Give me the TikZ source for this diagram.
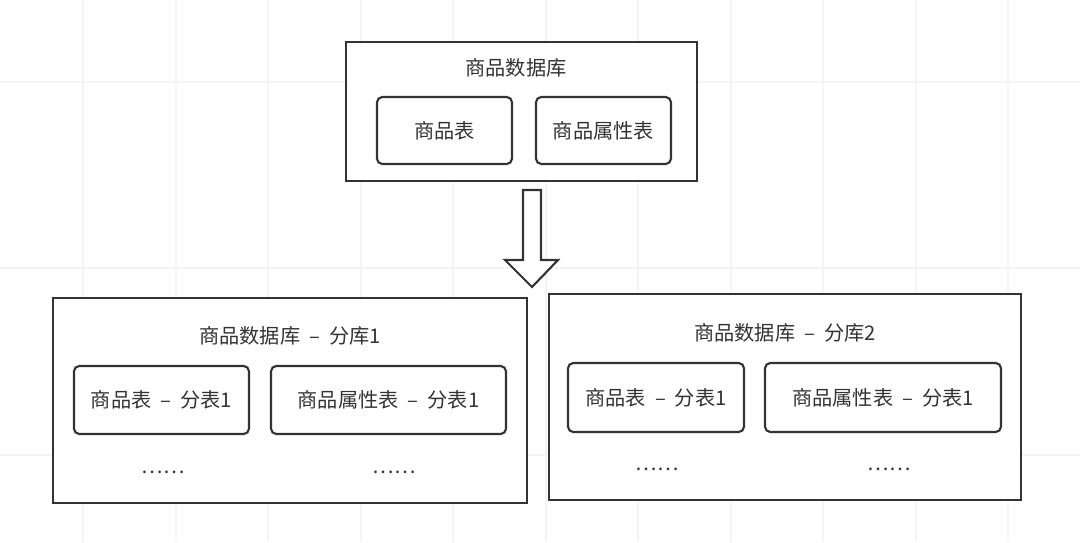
\documentclass[tikz,border=0pt]{standalone}
\usepackage{fontspec}
\setmainfont{Noto Sans CJK SC}
\usetikzlibrary{fit}
\definecolor{ink}{HTML}{333333}
\definecolor{gridc}{HTML}{F4F4F4}
\begin{document}
\begin{tikzpicture}[x=0.02cm,y=-0.02cm,
  outerbox/.style={draw=ink,line width=1.2pt,fill=white,inner sep=0pt},
  innerbox/.style={draw=ink,line width=1.2pt,rounded corners=3pt,fill=white,inner sep=0pt},
  lbl/.style={text=ink,font=\fontsize{11.5}{14}\selectfont,inner sep=0pt},
  gridline/.style={draw=gridc,line width=1.6pt}]
\useasboundingbox (0,0) rectangle (1080,542);
\fill[white] (0,0) rectangle (1080,542);
% faint background grid
\foreach \gx in {83,176,268,361,453,546,638,731,823,916,1008}
  \draw[gridline] (\gx,0) -- (\gx,542);
\foreach \gy in {82,268,455}
  \draw[gridline] (0,\gy) -- (1080,\gy);
% top database
\node[outerbox,fit={(346,42)(697,181)}] (db) {};
\node[lbl] (dbt) at (516,68) {商品数据库};
\node[innerbox,fit={(377,97)(512,164)}] (t1) {};
\node[lbl] at (t1.center) {商品表};
\node[innerbox,fit={(536,97)(671,164)}] (t2) {};
\node[lbl] at (t2.center) {商品属性表};
% hollow arrow
\draw[draw=ink,line width=1.2pt,fill=white,line join=miter]
  (523,190) -- (541,190) -- (541,260) -- (558,260) -- (532,287) -- (505,260) -- (523,260) -- cycle;
% shard 1
\node[outerbox,fit={(53,298)(527,503)}] (s1) {};
\node[lbl] (s1t) at (290,336) {商品数据库\ \ –\ \ 分库1};
\node[innerbox,fit={(74,366)(249,434)}] (s1a) {};
\node[lbl] at (s1a.center) {商品表\ \ –\ \ 分表1};
\node[innerbox,fit={(271,366)(506,434)}] (s1b) {};
\node[lbl] at (s1b.center) {商品属性表\ \ –\ \ 分表1};
\node[lbl] (s1d1) at (163,472) {……};
\node[lbl] (s1d2) at (394,472) {……};
% shard 2
\node[outerbox,fit={(549,294)(1021,500)}] (s2) {};
\node[lbl] (s2t) at (785,333) {商品数据库\ \ –\ \ 分库2};
\node[innerbox,fit={(568,363)(744,432)}] (s2a) {};
\node[lbl] at (s2a.center) {商品表\ \ –\ \ 分表1};
\node[innerbox,fit={(765,363)(1001,432)}] (s2b) {};
\node[lbl] at (s2b.center) {商品属性表\ \ –\ \ 分表1};
\node[lbl] (s2d1) at (657,469) {……};
\node[lbl] (s2d2) at (889,469) {……};
\end{tikzpicture}
\end{document}
